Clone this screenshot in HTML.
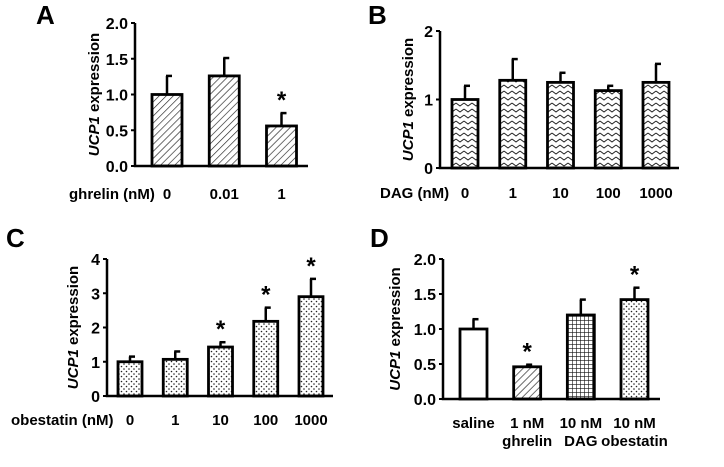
<!DOCTYPE html>
<html><head><meta charset="utf-8">
<style>
html,body{margin:0;padding:0;background:#fff;}
svg{display:block;font-family:"Liberation Sans",Arial,sans-serif;font-weight:bold;}
</style></head>
<body>
<svg id="fig" width="724" height="467" viewBox="0 0 724 467" xmlns="http://www.w3.org/2000/svg">
<defs>
<pattern id="diag" width="5" height="5" patternUnits="userSpaceOnUse" patternTransform="rotate(45)">
<rect width="5" height="5" fill="#fff"/><line x1="0" y1="0" x2="0" y2="5" stroke="#222" stroke-width="1.3"/></pattern>
<pattern id="zig" width="8" height="6" patternUnits="userSpaceOnUse">
<rect width="8" height="6" fill="#fff"/><polyline points="0,1 4,4 8,1" fill="none" stroke="#222" stroke-width="1"/></pattern>
<pattern id="dots" width="5" height="5" patternUnits="userSpaceOnUse">
<rect width="5" height="5" fill="#fff"/><circle cx="1.5" cy="1.5" r="0.8" fill="#222"/><circle cx="4" cy="4" r="0.8" fill="#222"/></pattern>
<pattern id="grid" width="4" height="4" patternUnits="userSpaceOnUse">
<rect width="4" height="4" fill="#fff"/><path d="M0,0H4M0,0V4" stroke="#111" stroke-width="1.2"/></pattern>
</defs>
</svg>
<script>
// Panel A
const catsA = ["0","0.01","1"];
const valsA = [1.0, 1.26, 0.56];
const errA = [1.26, 1.51, 0.74];
const starA = [false,false,true];
const ticksA = ["0.0","0.5","1.0","1.5","2.0"];
// Panel B
const catsB = ["0","1","10","100","1000"];
const valsB = [1.0, 1.28, 1.25, 1.13, 1.25];
const errB = [1.2, 1.59, 1.39, 1.2, 1.52];
const starB = [false,false,false,false,false];
const ticksB = ["0","1","2"];
// Panel C
const catsC = ["0","1","10","100","1000"];
const valsC = [1.0, 1.07, 1.43, 2.18, 2.9];
const errC = [1.15, 1.3, 1.57, 2.58, 3.42];
const starC = [false,false,true,true,true];
const ticksC = ["0","1","2","3","4"];
// Panel D
const catsD = [["saline",""],["1 nM","ghrelin"],["10 nM","DAG"],["10 nM","obestatin"]];
const valsD = [1.0, 0.46, 1.2, 1.42];
const errD = [1.14, 0.49, 1.42, 1.59];
const starD = [false,true,false,true];
const ticksD = ["0.0","0.5","1.0","1.5","2.0"];

const svg=document.getElementById('fig');
const NS="http://www.w3.org/2000/svg";
function mk(tag,attrs,parent){const e=document.createElementNS(NS,tag);for(const k in attrs)e.setAttribute(k,attrs[k]);(parent||svg).appendChild(e);return e;}

function panel(cfg){
  const g=mk('g',{});
  
  
  const ymax=parseFloat(cfg.ticks[cfg.ticks.length-1]);
  const y=v=>cfg.y0-(v/ymax)*(cfg.y0-cfg.yTop);
  const n=cfg.vals.length;
  const step=(cfg.lastC-cfg.firstC)/(n-1);
  const xc=i=>cfg.firstC+i*step;
  cfg.vals.forEach((v,i)=>{
    const cx=xc(i);
    const el=mk('line',{x1:cx,x2:cx,y1:y(v),y2:y(cfg.err[i]),stroke:'#000','stroke-width':2.5},g);
    
    
    const cap=mk('line',{x1:cx-1,x2:cx+5,y1:y(cfg.err[i]),y2:y(cfg.err[i]),stroke:'#000','stroke-width':2.5},g);
    
    
    const r=mk('rect',{x:cx-cfg.bw/2,y:y(v),width:cfg.bw,height:cfg.y0-y(v),fill:cfg.fills[i],stroke:'#000','stroke-width':2.8},g);
    
    
    if(cfg.star[i]){
      const s=mk('text',{x:cx,y:y(cfg.err[i])-5,'text-anchor':'middle','font-size':24},g);
      s.textContent='*';
      
      
    }
  });
  const ax=mk('path',{d:`M${cfg.x0},${cfg.yTop}V${cfg.y0}H${cfg.axEnd}`,fill:'none',stroke:'#000','stroke-width':2.5},g);
  
  
  cfg.ticks.forEach(t=>{
    const v=parseFloat(t);
    const tk=mk('line',{x1:cfg.x0-4,x2:cfg.x0,y1:y(v),y2:y(v),stroke:'#000','stroke-width':2},g);
    
    
    const tl=mk('text',{x:cfg.x0-7,y:y(v)+6,'text-anchor':'end','font-size':16},g);
    tl.textContent=t;
    
    
  });
  const yt=mk('text',{transform:`translate(${cfg.titleX},${(cfg.y0+cfg.yTop)/2}) rotate(-90)`,'text-anchor':'middle','font-size':15},g);
  
  
  const it=mk('tspan',{'font-style':'italic'},yt);it.textContent='UCP1';
  const rest=mk('tspan',{},yt);rest.textContent=' expression';
  cfg.cats.forEach((c,i)=>{
    const lines=Array.isArray(c)?c:[c];
    lines.forEach((ln,j)=>{
      const t=mk('text',{x:xc(i),y:cfg.labY+j*18,'text-anchor':'middle','font-size':15},g);
      t.textContent=ln;
      
      
    });
  });
  if(cfg.xTitle){
    const xt=mk('text',{x:cfg.xTitleX,y:cfg.labY,'text-anchor':'start','font-size':15},g);
    xt.textContent=cfg.xTitle;
    
    
  }
  const L=mk('text',{x:cfg.letX,y:cfg.letY,'font-size':26},g);
  L.textContent=cfg.id;
  
  
}

panel({id:'A',cats:catsA,vals:valsA,err:errA,star:starA,ticks:ticksA,x0:135,y0:166,yTop:23,firstC:167,lastC:281.5,axEnd:308,bw:30,
  fills:['url(#diag)','url(#diag)','url(#diag)'],titleX:99,labY:199,xTitle:'ghrelin (nM)',xTitleX:69,letX:36,letY:24});
panel({id:'B',cats:catsB,vals:valsB,err:errB,star:starB,ticks:ticksB,x0:440,y0:168,yTop:31,firstC:465,lastC:656,axEnd:679,bw:26,
  fills:Array(5).fill('url(#zig)'),titleX:413,labY:198,xTitle:'DAG (nM)',xTitleX:380,letX:368,letY:24});
panel({id:'C',cats:catsC,vals:valsC,err:errC,star:starC,ticks:ticksC,x0:107,y0:396,yTop:259,firstC:130,lastC:311,axEnd:333,bw:24,
  fills:Array(5).fill('url(#dots)'),titleX:78,labY:425,xTitle:'obestatin (nM)',xTitleX:11,letX:6,letY:247});
panel({id:'D',cats:catsD,vals:valsD,err:errD,star:starD,ticks:ticksD,x0:443,y0:399,yTop:259,firstC:473.5,lastC:634.5,axEnd:660,bw:27,
  fills:['#fff','url(#diag)','url(#grid)','url(#dots)'],titleX:400,labY:428,xTitle:'',xTitleX:0,letX:370,letY:247});
</script>
</body></html>
